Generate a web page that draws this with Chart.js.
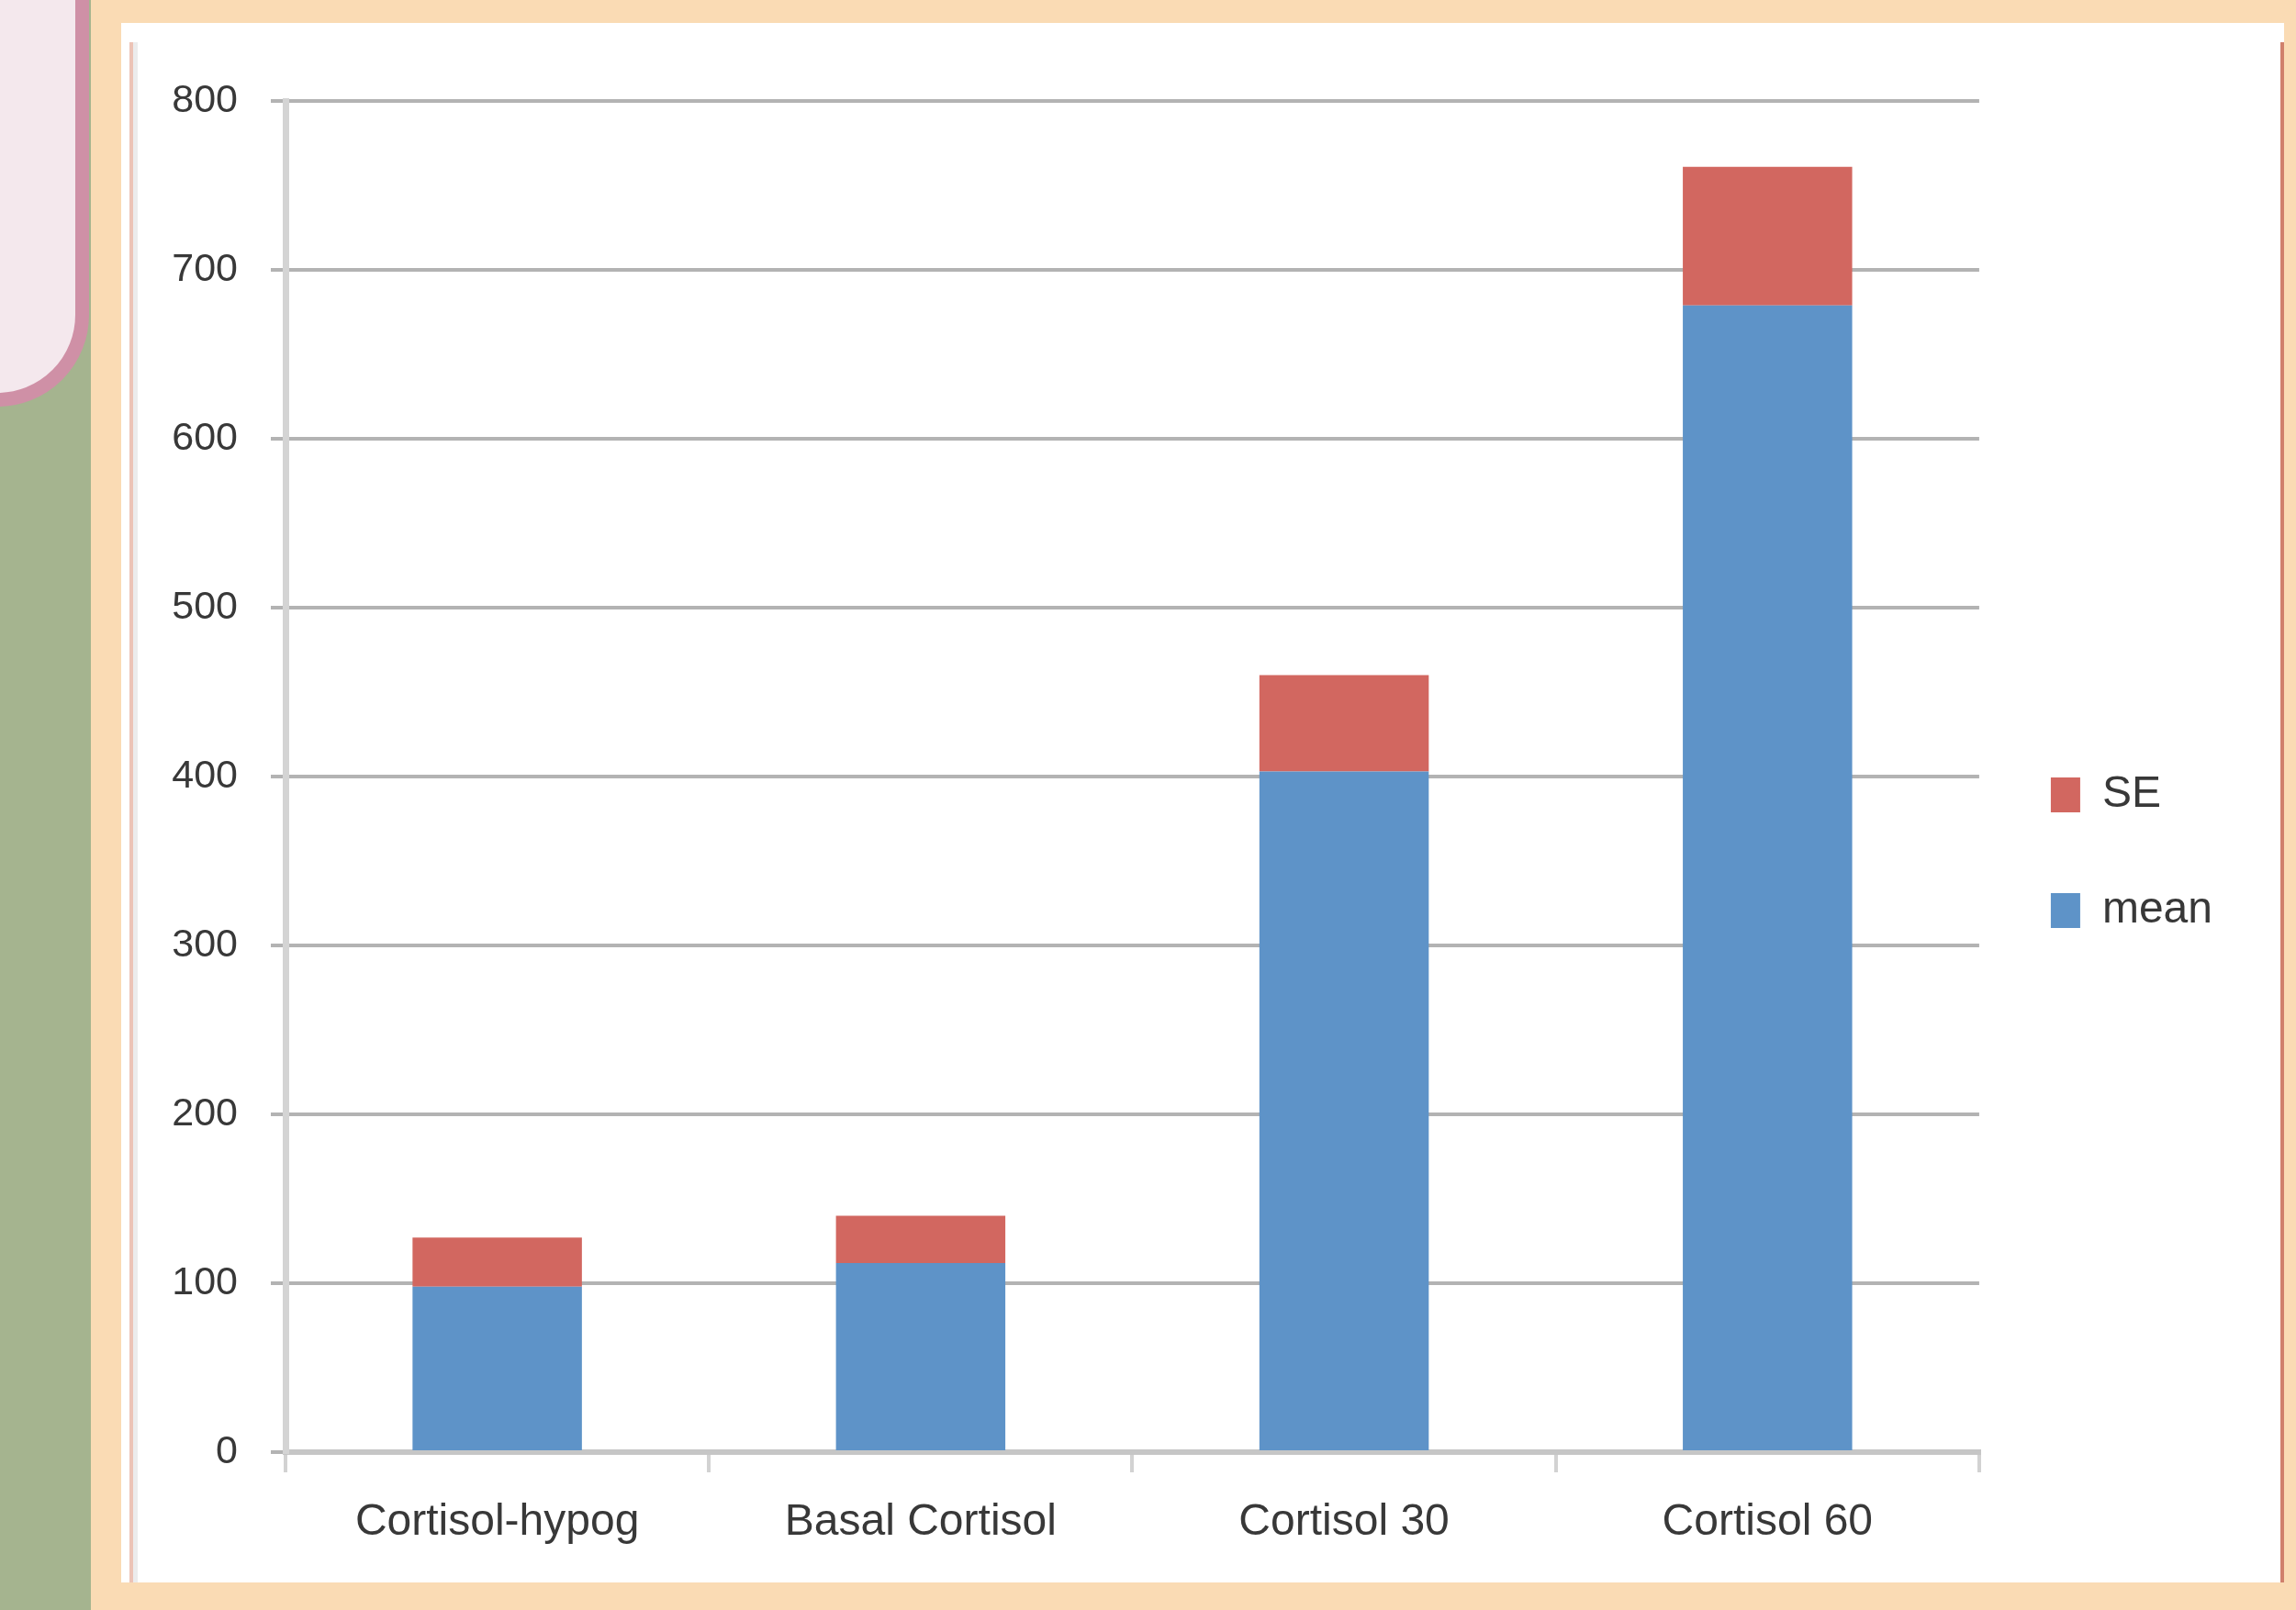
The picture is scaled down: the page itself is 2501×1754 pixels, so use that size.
<!DOCTYPE html>
<html>
<head>
<meta charset="utf-8">
<title>Cortisol response</title>
<script src="https://cdn.jsdelivr.net/npm/chart.js@4/dist/chart.umd.min.js"></script>
<style>
  html, body { margin: 0; padding: 0; }
  body {
    width: 2501px; height: 1754px; position: relative; overflow: hidden;
    background: #fadbb4;
  }
  .strip { position: absolute; left: 0; top: 0; width: 99px; height: 1754px; background: #a5b48f; }
  .tab {
    position: absolute; box-sizing: border-box;
    left: -120px; top: -100px; width: 217px; height: 543px;
    background: #f4e8ed; border: 15px solid #cf90a6;
    border-radius: 0 0 100px 0;
  }
  .sheet { position: absolute; left: 132px; top: 25px; width: 2356px; height: 1699px; background: #ffffff; }
  .rule-l { position: absolute; left: 141px; top: 46px; width: 4px; height: 1678px; background: #ecc3b6; }
  .rule-l2 { position: absolute; left: 145px; top: 46px; width: 5px; height: 1678px; background: #ececec; }
  .rule-r { position: absolute; left: 2484px; top: 46px; width: 4px; height: 1678px; background: #d0806c; }
  #chart { position: absolute; left: 152px; top: 46px; }
</style>
</head>
<body>
<div class="strip"></div>
<div class="tab"></div>
<div class="sheet"></div>
<div class="rule-l"></div>
<div class="rule-l2"></div>
<div class="rule-r"></div>
<canvas id="chart" width="2331" height="1708"></canvas>
<script>
// Serum cortisol by test phase: mean with the standard error stacked on top
const categories = ['Cortisol-hypog', 'Basal Cortisol', 'Cortisol 30', 'Cortisol 60'];
const meanValues = [98, 112, 403, 679];
const seValues = [29, 28, 57, 82];
const yMin = 0;
const yMax = 800;
const yStep = 100;

const BLUE = '#5e93c8';
const RED = '#d26760';
const TEXT = '#383838';
const FONT = '"Liberation Sans", Arial, sans-serif';

new Chart(document.getElementById('chart'), {
  type: 'bar',
  data: {
    labels: categories,
    datasets: [
      { label: 'mean', data: meanValues, backgroundColor: BLUE, barPercentage: 0.4, categoryPercentage: 1 },
      { label: 'SE', data: seValues, backgroundColor: RED, barPercentage: 0.4, categoryPercentage: 1 }
    ]
  },
  options: {
    responsive: false,
    animation: false,
    devicePixelRatio: 1,
    layout: { padding: { left: 0, top: 64, right: 63, bottom: 6 } },
    plugins: {
      legend: {
        position: 'right',
        reverse: true,
        labels: {
          boxWidth: 32, boxHeight: 38, padding: 78, color: TEXT,
          font: { family: FONT, size: 48 }
        }
      },
      tooltip: { enabled: false }
    },
    scales: {
      x: {
        stacked: true,
        grid: { drawOnChartArea: false, drawTicks: true, tickLength: 22, color: '#d2d2d2', lineWidth: 4, offset: true },
        border: { color: '#c6c6c6', width: 6 },
        ticks: { padding: 26, color: TEXT, font: { family: FONT, size: 48 }, maxRotation: 0, autoSkip: false },
        afterFit: (s) => { s.height = 166; }
      },
      y: {
        stacked: true,
        min: yMin, max: yMax,
        ticks: { stepSize: yStep, padding: 36, color: TEXT, font: { family: FONT, size: 43 } },
        grid: { color: '#b3b3b3', lineWidth: 4, tickLength: 16 },
        border: { color: '#d4d4d4', width: 7 },
        afterFit: (s) => { s.width = 159; }
      }
    }
  }
});
</script>
</body>
</html>
